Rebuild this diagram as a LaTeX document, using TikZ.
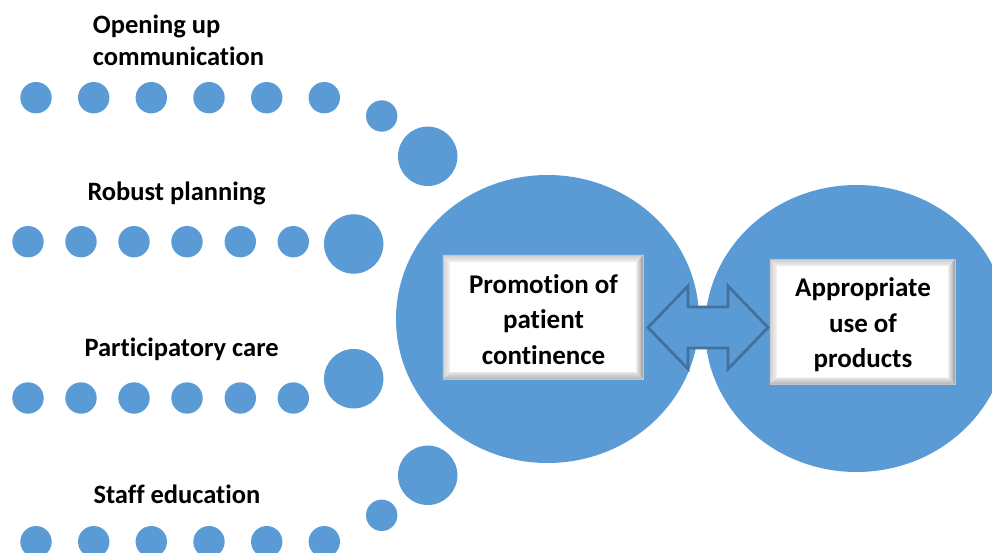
\documentclass[tikz,border=0pt]{standalone}
\usepackage{fontspec}
\setmainfont{Carlito}[Ligatures=NoCommon]
\usetikzlibrary{calc}
\definecolor{dotblue}{HTML}{5B9BD5}
\definecolor{edgeblue}{HTML}{41719C}

% bevelled edges round a card node
\newcommand{\bevelbox}[1]{%
  \shade[top color=gray!40, bottom color=gray!10] (#1.north west) -- (#1.north east) -- ($(#1.north east)+(-7,7)$) -- ($(#1.north west)+(7,7)$) -- cycle;
  \shade[left color=gray!35, right color=gray!10] (#1.north west) -- ($(#1.north west)+(7,7)$) -- ($(#1.south west)+(7,-7)$) -- (#1.south west) -- cycle;
  \shade[left color=gray!15, right color=gray!80] (#1.north east) -- (#1.south east) -- ($(#1.south east)+(-7,-7)$) -- ($(#1.north east)+(-7,7)$) -- cycle;
  \shade[top color=gray!20, bottom color=gray!60] (#1.south west) -- ($(#1.south west)+(7,-7)$) -- ($(#1.south east)+(-7,-7)$) -- (#1.south east) -- cycle;
  \draw[gray!45, very thin] (#1.north west) rectangle (#1.south east);
}

\begin{document}
\begin{tikzpicture}[x=1pt,y=-1pt,
  dot/.style={fill=dotblue},
  label text/.style={font=\fontsize{26.5}{32.7}\selectfont\bfseries, inner sep=0pt},
  card text/.style={font=\fontsize{27}{35.5}\selectfont\bfseries, inner sep=0pt, align=center},
  card/.style={fill=white, inner sep=0pt}]
\useasboundingbox (0,0) rectangle (992,553);
\clip (0,0) rectangle (992,553);

% two big circles
\fill[dot] (547.5,319) ellipse [x radius=151.5, y radius=144];
\fill[dot] (856.5,328.5) ellipse [x radius=151.5, y radius=143.5];

% rows of dots
\foreach \x in {36,93.7,151.3,209,266.7,324.3} {
    \fill[dot] (\x,97.7) circle (15.7);
    \fill[dot] (\x,541.7) circle (15.7);
}
\foreach \x in {28,81,134,187,240.3,293.3} {
    \fill[dot] (\x,241.7) circle (15.7);
    \fill[dot] (\x,398) circle (15.7);
}
\fill[dot] (381.7,116) circle (15.7);
\fill[dot] (427.7,156.3) circle (29.7);
\fill[dot] (353.7,244) circle (29.7);
\fill[dot] (353.7,378.7) circle (29.7);
\fill[dot] (427.7,475.3) circle (29.7);
\fill[dot] (381.7,515.3) circle (15.7);

% labels
\node[label text, anchor=base west] (opening) at (92.7,33.3) {Opening up};
\node[label text, anchor=base west] (communication) at (92.7,66) {communication};
\node[label text, anchor=base west] (planning) at (87.3,200.7) {Robust planning};
\node[label text, anchor=base west] (participatory) at (84.3,356) {Participatory care};
\node[label text, anchor=base west] (staff) at (93.3,503.3) {Staff education};

% double block arrow
\coordinate (tipL) at (648,327.5);
\coordinate (tipR) at (768,327.5);
\draw[edgeblue, line width=2.8pt, fill=dotblue, line join=miter]
    (tipL) -- ++(40,-41.5) -- ++(0,21) -- ++(40,0) -- ++(0,-21) -- (tipR)
    -- ++(-40,41.5) -- ++(0,-21) -- ++(-40,0) -- ++(0,21) -- cycle;

% cards
\node[card, minimum width=200pt, minimum height=124pt] (promo) at (543,317) {};
\bevelbox{promo}
\node[card text, anchor=base] (promotxt) at (543.5,364.3) {Promotion of\\patient\\continence};

\node[card, minimum width=185pt, minimum height=125pt] (products) at (862.5,321.8) {};
\bevelbox{products}
\node[card text, anchor=base] (productstxt) at (863,367.7) {Appropriate\\use of\\products};
\end{tikzpicture}
\end{document}
